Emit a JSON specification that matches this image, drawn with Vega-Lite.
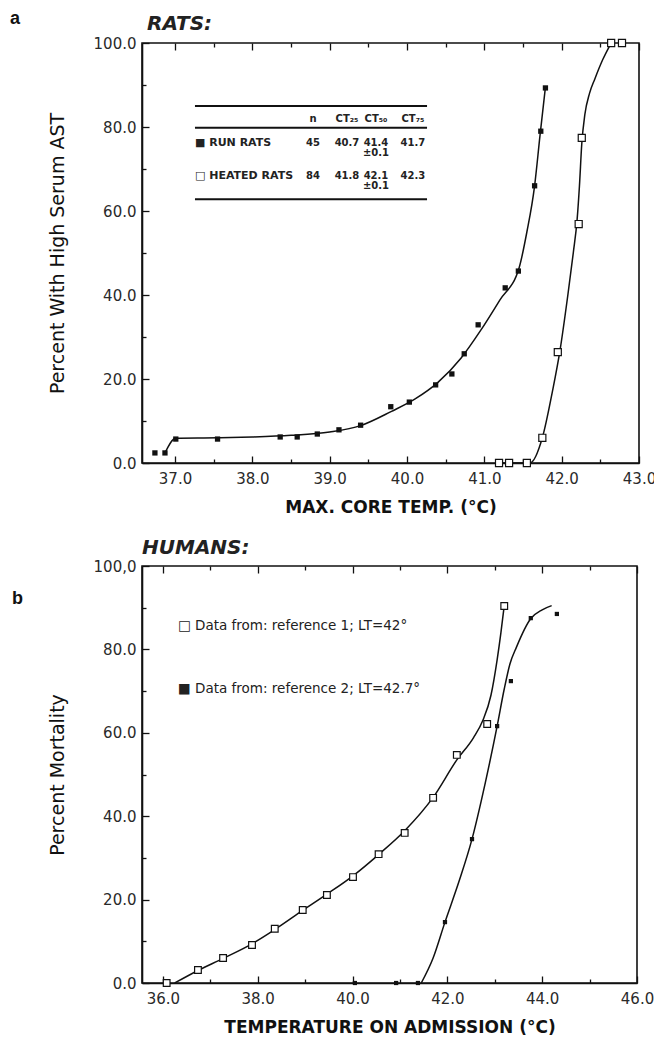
{
  "$schema": "https://vega.github.io/schema/vega-lite/v6.json",
  "padding": {"left": 9, "top": 9, "right": 5, "bottom": 5},
  "background": "white",
  "config": {
    "view": {"stroke": "#111", "strokeWidth": 1.6},
    "font": "DejaVu Sans",
    "axis": {
      "grid": false,
      "domainColor": "#111",
      "domainWidth": 1.6,
      "tickColor": "#111",
      "tickWidth": 1.3,
      "labelFont": "DejaVu Sans",
      "labelFontSize": 15,
      "labelColor": "#2a2a2a",
      "labelFlush": false,
      "labelOverlap": false,
      "titleColor": "#111",
      "titleFont": "DejaVu Sans"
    }
  },
  "datasets": {
    "ratsPts": [
      {"series": "run", "x": 36.74, "y": 2.4},
      {"series": "run", "x": 36.87, "y": 2.4},
      {"series": "run", "x": 37.01, "y": 5.7},
      {"series": "run", "x": 37.55, "y": 5.7},
      {"series": "run", "x": 38.36, "y": 6.2},
      {"series": "run", "x": 38.58, "y": 6.2},
      {"series": "run", "x": 38.84, "y": 6.9},
      {"series": "run", "x": 39.12, "y": 7.9},
      {"series": "run", "x": 39.4, "y": 9.0},
      {"series": "run", "x": 39.79, "y": 13.4},
      {"series": "run", "x": 40.03, "y": 14.5},
      {"series": "run", "x": 40.37, "y": 18.6},
      {"series": "run", "x": 40.58, "y": 21.2},
      {"series": "run", "x": 40.74, "y": 26.0},
      {"series": "run", "x": 40.92, "y": 32.9},
      {"series": "run", "x": 41.27, "y": 41.7},
      {"series": "run", "x": 41.44, "y": 45.7},
      {"series": "run", "x": 41.65, "y": 66.0},
      {"series": "run", "x": 41.73, "y": 79.0},
      {"series": "run", "x": 41.79, "y": 89.3},
      {"series": "heated", "x": 41.19, "y": 0},
      {"series": "heated", "x": 41.32, "y": 0},
      {"series": "heated", "x": 41.55, "y": 0},
      {"series": "heated", "x": 41.75, "y": 6.0},
      {"series": "heated", "x": 41.95, "y": 26.4},
      {"series": "heated", "x": 42.22, "y": 56.9},
      {"series": "heated", "x": 42.26, "y": 77.4},
      {"series": "heated", "x": 42.64, "y": 100},
      {"series": "heated", "x": 42.78, "y": 100}
    ],
    "ratsCurve": [
      {"series": "run", "x": 36.87, "y": 2.4},
      {"series": "run", "x": 37.01, "y": 5.9},
      {"series": "run", "x": 37.55, "y": 6.0},
      {"series": "run", "x": 38.0, "y": 6.2},
      {"series": "run", "x": 38.5, "y": 6.6},
      {"series": "run", "x": 39.0, "y": 7.4},
      {"series": "run", "x": 39.4, "y": 8.9},
      {"series": "run", "x": 39.8, "y": 12.3},
      {"series": "run", "x": 40.1, "y": 15.2},
      {"series": "run", "x": 40.4, "y": 19.2},
      {"series": "run", "x": 40.7, "y": 25.0},
      {"series": "run", "x": 40.95, "y": 31.5},
      {"series": "run", "x": 41.2, "y": 38.8},
      {"series": "run", "x": 41.45, "y": 46.5},
      {"series": "run", "x": 41.55, "y": 55},
      {"series": "run", "x": 41.65, "y": 66},
      {"series": "run", "x": 41.72, "y": 78},
      {"series": "run", "x": 41.79, "y": 89.5},
      {"series": "heated", "x": 41.15, "y": 0},
      {"series": "heated", "x": 41.59, "y": 0},
      {"series": "heated", "x": 41.75, "y": 6.0},
      {"series": "heated", "x": 41.88, "y": 17},
      {"series": "heated", "x": 41.98, "y": 27},
      {"series": "heated", "x": 42.08, "y": 40},
      {"series": "heated", "x": 42.15, "y": 50},
      {"series": "heated", "x": 42.2, "y": 58},
      {"series": "heated", "x": 42.23, "y": 66},
      {"series": "heated", "x": 42.26, "y": 76},
      {"series": "heated", "x": 42.3, "y": 83},
      {"series": "heated", "x": 42.36, "y": 88},
      {"series": "heated", "x": 42.43, "y": 91.5},
      {"series": "heated", "x": 42.53, "y": 96},
      {"series": "heated", "x": 42.64, "y": 100}
    ],
    "tableLines": [
      {"x": 37.258, "x2": 40.259, "y": 85.0},
      {"x": 37.258, "x2": 40.259, "y": 79.8},
      {"x": 37.258, "x2": 40.259, "y": 62.8}
    ],
    "tableLabels": [
      {"t": "■ RUN RATS", "x": 37.258, "y": 76.3},
      {"t": "□ HEATED RATS", "x": 37.258, "y": 68.3}
    ],
    "tableCells": [
      {"t": "n", "x": 38.784, "y": 81.9},
      {"t": "CT₂₅", "x": 39.224, "y": 81.9},
      {"t": "CT₅₀", "x": 39.599, "y": 81.9},
      {"t": "CT₇₅", "x": 40.077, "y": 81.9},
      {"t": "45", "x": 38.784, "y": 76.3},
      {"t": "40.7", "x": 39.224, "y": 76.3},
      {"t": "41.4", "x": 39.599, "y": 76.3},
      {"t": "±0.1", "x": 39.599, "y": 73.9},
      {"t": "41.7", "x": 40.077, "y": 76.3},
      {"t": "84", "x": 38.784, "y": 68.3},
      {"t": "41.8", "x": 39.224, "y": 68.3},
      {"t": "42.1", "x": 39.599, "y": 68.3},
      {"t": "±0.1", "x": 39.599, "y": 66.0},
      {"t": "42.3", "x": 40.077, "y": 68.3}
    ],
    "humPts": [
      {"series": "ref1", "x": 36.08, "y": 0},
      {"series": "ref1", "x": 36.74, "y": 3.1},
      {"series": "ref1", "x": 37.27, "y": 6.0},
      {"series": "ref1", "x": 37.88, "y": 9.1},
      {"series": "ref1", "x": 38.36, "y": 13.0},
      {"series": "ref1", "x": 38.95, "y": 17.5},
      {"series": "ref1", "x": 39.46, "y": 21.1},
      {"series": "ref1", "x": 40.01, "y": 25.4},
      {"series": "ref1", "x": 40.55, "y": 30.9},
      {"series": "ref1", "x": 41.1, "y": 36.0},
      {"series": "ref1", "x": 41.7, "y": 44.4},
      {"series": "ref1", "x": 42.2, "y": 54.7},
      {"series": "ref1", "x": 42.84, "y": 62.1},
      {"series": "ref1", "x": 43.2, "y": 90.4},
      {"series": "ref2", "x": 40.05, "y": 0},
      {"series": "ref2", "x": 40.92, "y": 0},
      {"series": "ref2", "x": 41.38, "y": 0},
      {"series": "ref2", "x": 41.95, "y": 14.6},
      {"series": "ref2", "x": 42.52, "y": 34.5},
      {"series": "ref2", "x": 43.05, "y": 61.6},
      {"series": "ref2", "x": 43.34, "y": 72.4},
      {"series": "ref2", "x": 43.76, "y": 87.5},
      {"series": "ref2", "x": 44.31, "y": 88.5}
    ],
    "humCurve": [
      {"series": "ref1", "x": 36.25, "y": 0},
      {"series": "ref1", "x": 36.74, "y": 3.0},
      {"series": "ref1", "x": 37.27, "y": 5.9},
      {"series": "ref1", "x": 37.88, "y": 9.4},
      {"series": "ref1", "x": 38.36, "y": 12.8},
      {"series": "ref1", "x": 38.95, "y": 17.4},
      {"series": "ref1", "x": 39.46, "y": 21.3},
      {"series": "ref1", "x": 40.01, "y": 25.7},
      {"series": "ref1", "x": 40.55, "y": 30.8},
      {"series": "ref1", "x": 41.1, "y": 36.5},
      {"series": "ref1", "x": 41.7, "y": 44.5},
      {"series": "ref1", "x": 42.2, "y": 53.5},
      {"series": "ref1", "x": 42.55, "y": 58.8},
      {"series": "ref1", "x": 42.75, "y": 63.0},
      {"series": "ref1", "x": 42.92, "y": 69.0},
      {"series": "ref1", "x": 43.05, "y": 77.5},
      {"series": "ref1", "x": 43.13, "y": 84.0},
      {"series": "ref1", "x": 43.2, "y": 90.5},
      {"series": "ref2", "x": 41.45, "y": 0},
      {"series": "ref2", "x": 41.7, "y": 6.0},
      {"series": "ref2", "x": 41.95, "y": 14.6},
      {"series": "ref2", "x": 42.25, "y": 24.5},
      {"series": "ref2", "x": 42.52, "y": 34.5},
      {"series": "ref2", "x": 42.8, "y": 48.0},
      {"series": "ref2", "x": 43.05, "y": 61.6},
      {"series": "ref2", "x": 43.2, "y": 70.5},
      {"series": "ref2", "x": 43.32, "y": 76.5},
      {"series": "ref2", "x": 43.46, "y": 80.6},
      {"series": "ref2", "x": 43.76, "y": 87.4},
      {"series": "ref2", "x": 44.0, "y": 89.5},
      {"series": "ref2", "x": 44.2, "y": 90.5}
    ],
    "humLegend": [
      {"t": "□ Data from: reference 1; LT=42°", "x": 36.32, "y": 85.6},
      {"t": "■ Data from: reference 2; LT=42.7°", "x": 36.32, "y": 70.5}
    ]
  },
  "spacing": 21,
  "vconcat": [
    {
      "width": 497,
      "height": 420,
      "resolve": {"axis": {"x": "independent"}},
      "encoding": {
        "x": {"field": "x", "type": "quantitative", "scale": {"domain": [36.573, 43], "nice": false, "zero": false}, "axis": null},
        "y": {
          "field": "y", "type": "quantitative",
          "scale": {"domain": [0, 100], "nice": false, "zero": false},
          "axis": {
            "values": [0, 10, 20, 30, 40, 50, 60, 70, 80, 90, 100],
            "labelExpr": "datum.value % 20 == 0 ? format(datum.value, '.1f') : ''",
            "tickSize": {"condition": {"test": "datum.value % 20 == 0", "value": -7}, "value": -4},
            "labelPadding": 13,
            "title": "Percent With High Serum AST",
            "titleFontSize": 19,
            "titleFontWeight": "normal",
            "titlePadding": 26
          }
        }
      },
      "layer": [
        {
          "data": {"name": "ratsCurve"},
          "mark": {"type": "line", "color": "#111", "strokeWidth": 1.5, "interpolate": "monotone"},
          "encoding": {
            "x": {"field": "x", "type": "quantitative", "scale": {"domain": [36.573, 43], "nice": false, "zero": false},
              "axis": {
                "orient": "bottom",
                "values": [37, 37.5, 38, 38.5, 39, 39.5, 40, 40.5, 41, 41.5, 42, 42.5, 43],
                "labelExpr": "datum.value % 1 == 0 ? format(datum.value, '.1f') : ''",
                "tickSize": {"condition": {"test": "datum.value % 1 == 0", "value": -7}, "value": -4},
                "labelPadding": 15,
                "title": "MAX. CORE TEMP. (°C)",
                "titleFontSize": 17,
                "titleFontWeight": "bold",
                "titlePadding": 10
              }},
            "detail": {"field": "series"}
          }
        },
        {
          "data": {"name": "ratsPts"},
          "transform": [{"filter": "datum.series == 'heated'"}],
          "mark": {"type": "point", "shape": "square", "filled": true, "fill": "white", "stroke": "#111", "strokeWidth": 1.2, "size": 50, "opacity": 1},
          "encoding": {
            "x": {"field": "x", "type": "quantitative", "scale": {"domain": [36.573, 43], "nice": false, "zero": false},
              "axis": {
                "orient": "top",
                "values": [37, 37.5, 38, 38.5, 39, 39.5, 40, 40.5, 41, 41.5, 42, 42.5, 43],
                "labels": false,
                "domain": false,
                "tickSize": {"condition": {"test": "datum.value % 1 == 0", "value": -7}, "value": -4},
                "title": null
              }}
          }
        },
        {
          "data": {"name": "ratsPts"},
          "transform": [{"filter": "datum.series == 'run'"}],
          "mark": {"type": "point", "shape": "square", "filled": true, "color": "#111", "size": 28, "opacity": 1}
        },
        {
          "data": {"name": "tableLines"},
          "mark": {"type": "rule", "color": "#111", "strokeWidth": 2},
          "encoding": {"x2": {"field": "x2"}}
        },
        {
          "data": {"name": "tableLabels"},
          "mark": {"type": "text", "align": "left", "baseline": "middle", "fontSize": 11, "fontWeight": "bold", "font": "DejaVu Sans", "color": "#222"},
          "encoding": {"text": {"field": "t"}}
        },
        {
          "data": {"name": "tableCells"},
          "mark": {"type": "text", "align": "center", "baseline": "middle", "fontSize": 10, "fontWeight": "bold", "font": "DejaVu Sans", "color": "#222"},
          "encoding": {"text": {"field": "t"}}
        },
        {
          "data": {"values": [{"t": "RATS:", "x": 36.638, "y": 103.1}]},
          "mark": {"type": "text", "align": "left", "baseline": "alphabetic", "fontSize": 20, "fontWeight": "bold", "fontStyle": "italic", "font": "DejaVu Sans", "color": "#222"},
          "encoding": {"text": {"field": "t"}}
        },
        {
          "data": {"values": [{"t": "a", "x": 34.866, "y": 104.5}]},
          "mark": {"type": "text", "align": "left", "baseline": "alphabetic", "fontSize": 18, "fontWeight": "bold", "font": "Liberation Sans", "color": "#111"},
          "encoding": {"text": {"field": "t"}}
        }
      ]
    },
    {
      "width": 495,
      "height": 417,
      "resolve": {"axis": {"x": "independent"}},
      "encoding": {
        "x": {"field": "x", "type": "quantitative", "scale": {"domain": [35.56, 46], "nice": false, "zero": false}, "axis": null},
        "y": {
          "field": "y", "type": "quantitative",
          "scale": {"domain": [0, 100], "nice": false, "zero": false},
          "axis": {
            "values": [0, 10, 20, 30, 40, 50, 60, 70, 80, 90, 100],
            "labelExpr": "datum.value == 100 ? '100,0' : (datum.value % 20 == 0 ? format(datum.value, '.1f') : '')",
            "tickSize": {"condition": {"test": "datum.value % 20 == 0", "value": -7}, "value": -4},
            "labelPadding": 13,
            "title": "Percent Mortality",
            "titleFontSize": 19,
            "titleFontWeight": "normal",
            "titlePadding": 26
          }
        }
      },
      "layer": [
        {
          "data": {"name": "humCurve"},
          "mark": {"type": "line", "color": "#111", "strokeWidth": 1.5, "interpolate": "monotone"},
          "encoding": {
            "x": {"field": "x", "type": "quantitative", "scale": {"domain": [35.56, 46], "nice": false, "zero": false},
              "axis": {
                "orient": "bottom",
                "values": [36, 37, 38, 39, 40, 41, 42, 43, 44, 45, 46],
                "labelExpr": "datum.value % 2 == 0 ? format(datum.value, '.1f') : ''",
                "tickSize": {"condition": {"test": "datum.value % 2 == 0", "value": -7}, "value": -4},
                "labelPadding": 15,
                "title": "TEMPERATURE ON ADMISSION (°C)",
                "titleFontSize": 17,
                "titleFontWeight": "bold",
                "titlePadding": 10
              }},
            "detail": {"field": "series"}
          }
        },
        {
          "data": {"name": "humPts"},
          "transform": [{"filter": "datum.series == 'ref1'"}],
          "mark": {"type": "point", "shape": "square", "filled": true, "fill": "white", "stroke": "#111", "strokeWidth": 1.2, "size": 45, "opacity": 1},
          "encoding": {
            "x": {"field": "x", "type": "quantitative", "scale": {"domain": [35.56, 46], "nice": false, "zero": false},
              "axis": {
                "orient": "top",
                "values": [36, 37, 38, 39, 40, 41, 42, 43, 44, 45, 46],
                "labels": false,
                "domain": false,
                "tickSize": {"condition": {"test": "datum.value % 2 == 0", "value": -7}, "value": -4},
                "title": null
              }}
          }
        },
        {
          "data": {"name": "humPts"},
          "transform": [{"filter": "datum.series == 'ref2'"}],
          "mark": {"type": "point", "shape": "square", "filled": true, "color": "#111", "size": 18, "opacity": 1}
        },
        {
          "data": {"name": "humLegend"},
          "mark": {"type": "text", "align": "left", "baseline": "middle", "fontSize": 13.5, "font": "DejaVu Sans", "color": "#222"},
          "encoding": {"text": {"field": "t"}}
        },
        {
          "data": {"values": [{"t": "HUMANS:", "x": 35.56, "y": 102.9}]},
          "mark": {"type": "text", "align": "left", "baseline": "alphabetic", "fontSize": 20, "fontWeight": "bold", "fontStyle": "italic", "font": "DejaVu Sans", "color": "#222"},
          "encoding": {"text": {"field": "t"}}
        },
        {
          "data": {"values": [{"t": "b", "x": 32.817, "y": 90.9}]},
          "mark": {"type": "text", "align": "left", "baseline": "alphabetic", "fontSize": 18, "fontWeight": "bold", "font": "Liberation Sans", "color": "#111"},
          "encoding": {"text": {"field": "t"}}
        }
      ]
    }
  ]
}
